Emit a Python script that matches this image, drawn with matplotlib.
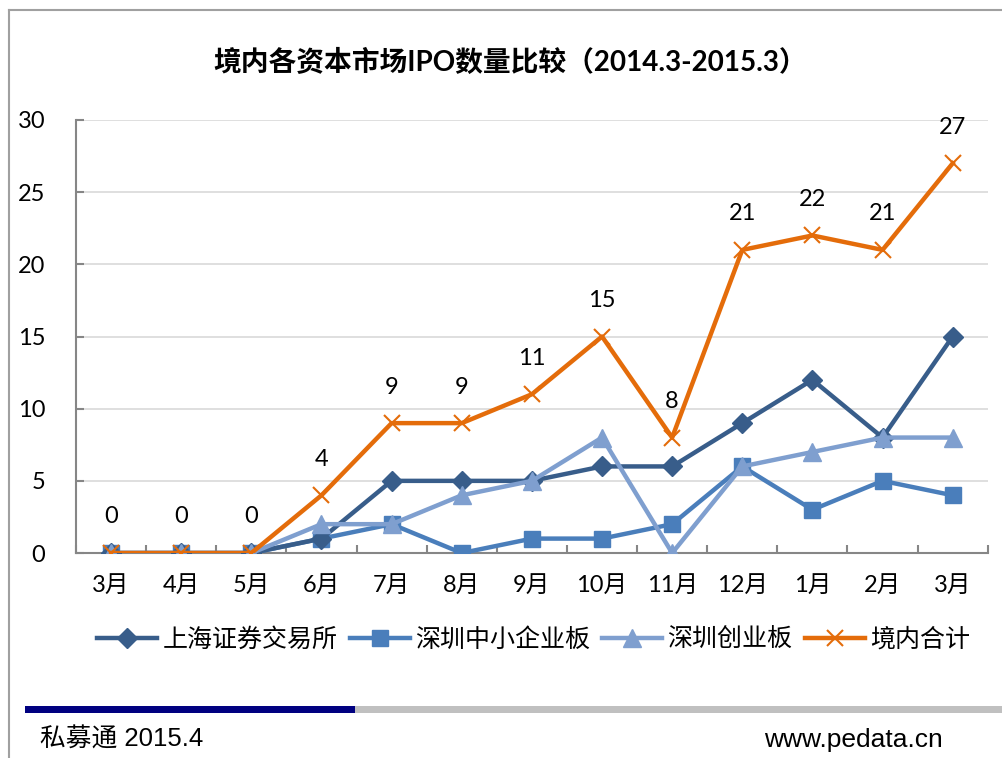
import matplotlib
matplotlib.use("Agg")
import matplotlib.pyplot as plt
import numpy as np
from matplotlib.lines import Line2D
from matplotlib.patches import Rectangle

plt.rcParams["font.family"] = ["Lato", "Noto Sans CJK SC", "DejaVu Sans"]

months = ["3月", "4月", "5月", "6月", "7月", "8月", "9月", "10月", "11月", "12月", "1月", "2月", "3月"]
sh_main = [0, 0, 0, 1, 5, 5, 5, 6, 6, 9, 12, 8, 15]
sz_sme = [0, 0, 0, 1, 2, 0, 1, 1, 2, 6, 3, 5, 4]
sz_chinext = [0, 0, 0, 2, 2, 4, 5, 8, 0, 6, 7, 8, 8]
domestic_total = [0, 0, 0, 4, 9, 9, 11, 15, 8, 21, 22, 21, 27]

series_names = ["上海证券交易所", "深圳中小企业板", "深圳创业板", "境内合计"]

C_SH = "#385D8A"
C_SME = "#4A7EBB"
C_CHI = "#7F9FCF"
C_TOT = "#E46C0A"

fig = plt.figure(figsize=(10.03, 7.58), dpi=100)
ax = fig.add_axes([0.0758, 0.2704, 0.909, 0.5713])

x = np.arange(len(months))
lw = 3.2
ax.plot(x, sh_main, color=C_SH, lw=lw, marker="D", ms=10, label=series_names[0], zorder=4)
ax.plot(x, sz_sme, color=C_SME, lw=lw, marker="s", ms=12, label=series_names[1], zorder=3)
ax.plot(x, sz_chinext, color=C_CHI, lw=lw, marker="^", ms=13, label=series_names[2], zorder=5)
ax.plot(x, domestic_total, color=C_TOT, lw=lw, marker="x", ms=12, mew=1.5,
        label=series_names[3], zorder=6)

for xi, v in zip(x, domestic_total):
    ax.annotate(str(v), (xi, v), xytext=(0, 26), textcoords="offset points",
                ha="center", va="center", fontsize=17, color="black")

ax.set_xlim(-0.5, len(months) - 0.5)
ax.set_ylim(0, 30)
ax.set_yticks(range(0, 31, 5))
ax.set_xticks(x)
ax.set_xticklabels(months)
ax.set_xticks(np.arange(-0.5, len(months), 1.0), minor=True)
ax.tick_params(axis="x", which="major", length=0, pad=16, labelsize=17)
ax.tick_params(axis="x", which="minor", length=6, direction="in", color="#868686", width=1.5)
ax.tick_params(axis="y", length=6, direction="in", color="#868686", width=1.5, pad=22, labelsize=17)
ax.yaxis.grid(True, color="#D9D9D9", lw=1.2)
ax.set_axisbelow(True)
for s in ["top", "right"]:
    ax.spines[s].set_visible(False)
for s in ["left", "bottom"]:
    ax.spines[s].set_color("#868686")
    ax.spines[s].set_linewidth(1.5)

fig.text(0.509, 0.918, "境内各资本市场IPO数量比较（2014.3-2015.3）", ha="center", va="center",
         fontsize=20, fontweight="bold")

fig.legend(loc="center", bbox_to_anchor=(0.532, 0.156), ncol=4, frameon=False,
           handlelength=2.4, handletextpad=0.2, columnspacing=0.5,
           prop={"family": ["Noto Sans CJK SC"], "size": 18})

# frame lines
fig.add_artist(Line2D([9 / 1003, 9 / 1003], [0, 1 - 10 / 758], transform=fig.transFigure,
                      color="#A0A0A0", lw=1.5))
fig.add_artist(Line2D([9 / 1003, 1], [1 - 10 / 758, 1 - 10 / 758], transform=fig.transFigure,
                      color="#A0A0A0", lw=1.5))

# footer bars
fig.add_artist(Rectangle((25 / 1003, 1 - 713 / 758), 330 / 1003, 7 / 758,
                         transform=fig.transFigure, color="#000080", lw=0))
fig.add_artist(Rectangle((355 / 1003, 1 - 713 / 758), 648 / 1003, 7 / 758,
                         transform=fig.transFigure, color="#C0C0C0", lw=0))

fig.text(40 / 1003, 1 - 740 / 758, "私募通 2015.4", ha="left", va="center", fontsize=18.5,
         family=["Liberation Sans", "Noto Sans CJK SC"])
fig.text(943 / 1003, 1 - 740 / 758, "www.pedata.cn", ha="right", va="center", fontsize=19,
         family=["Liberation Sans", "Noto Sans CJK SC"])

fig.savefig("out.png", dpi=100)
